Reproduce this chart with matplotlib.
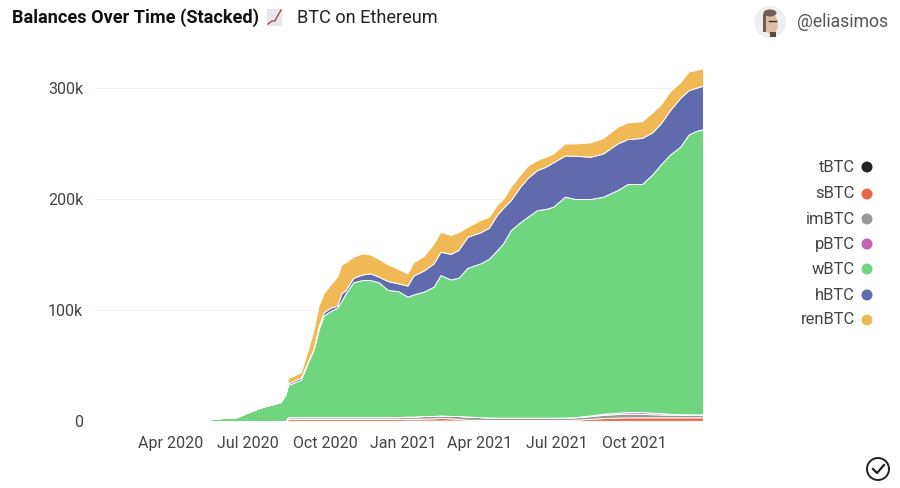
import matplotlib
matplotlib.use("Agg")
import matplotlib.pyplot as plt
import numpy as np
import pandas as pd
from matplotlib.patches import Circle, Rectangle, Ellipse

plt.rcParams['font.family'] = ['Roboto', 'DejaVu Sans']

dates = ["2020-05-12","2020-05-30","2020-06-19","2020-06-29","2020-07-16","2020-08-09","2020-08-15","2020-08-18",
         "2020-09-02","2020-09-10","2020-09-17","2020-09-23","2020-09-29","2020-10-07","2020-10-15","2020-10-20",
         "2020-10-25","2020-11-03","2020-11-14","2020-11-23","2020-12-03","2020-12-14","2020-12-26","2021-01-06",
         "2021-01-13","2021-01-25","2021-02-06","2021-02-14","2021-02-26","2021-03-07","2021-03-18","2021-04-02",
         "2021-04-12","2021-04-22","2021-04-29","2021-05-08","2021-05-19","2021-05-28","2021-06-08","2021-06-18",
         "2021-06-27","2021-07-11","2021-07-23","2021-08-10","2021-08-25","2021-09-11","2021-09-23","2021-10-10",
         "2021-10-22","2021-11-01","2021-11-12","2021-11-24","2021-12-04","2021-12-12","2021-12-21"]

tBTC = [0,0,0,0,0,0,0, .2,.2,.2,.2,.2,.2,.2,.2,.2,.2,.2,.2,.2,.2,.2,.2, .4,.4,.4,.4,.4,.4,.4,
        .1,.1,.1,.1,.1,.1,.1,.1,.1,.1,.1,.1,.1,.1,.1,.1,.1,.1,.1,.1,.1,.1,.1,.1,.1]
sBTC = [0,0,0,0,0,0,0, 1.8,1.8,1.8,1.8,1.8,1.8,1.8,1.8,1.8,1.8,1.8,1.8,1.8,1.8,1.8,1.8, 1.6,1.6,1.8,2,2.4,2,1.4,
        1,.9,.8,.7,.7,.7,.7,.7,.7,.7,.7,.8,1.1,1.9,2.5,3,3.2,3.2,3.2,3.2,3.2,3.2,3.2,3.2,3.2]
imBTC = [0,0,0,0,0,0,0, 1.5,1.5,1.5,1.5,1.5,1.5,1.5,1.5,1.5,1.5,1.5,1.5,1.5,1.5,1.5,1.5, 2,2,2.3,2.1,2.2,2.1,2.7,
         2.9,2.5,2.3,2.2,2.2,2.2,2.2,2.2,2.2,2.2,2.2,2.2,2.1,2.4,2.9,3.2,3.3,3.1,2.8,2.5,2.4,2.3,2.2,2.2,2.2]
pBTC = [0,0,0,0,0,0,0,0,0,0,0,0,0,0,0,0,0,0,0,0,0,0,0,0,0,0,0,0,0,0,
        0,0,0,0,0,0,0,0,0,0,0,0,.2,.6,1,1.2,1.4,1.6,1.4,1.2,.8,.6,.5,.5,.5]
wBTC = [1,2.5,3.5,7,12,17,24,29,33.5,48.5,60.5,78.5,91.5,95.5,98.5,104.5,111.5,121.5,123.5,123.5,121.5,114.5,113.5,108,
        110,112,116.5,126.5,123,124.5,134,138.5,142.8,151,157,169,176,181,187,188,190,199,196.5,195,195.5,200.5,205.5,205.5,214.5,224,233.5,240.8,252,255,257]
hBTC = [0,0,0,0,0,0,0,1.5,2,1,1,3,3,3,2,7,3,4,5,6,5,8,7,10,17,19,21,21,23,25,28,28,28,32,32,27,32,35,36,38,40,37,39,38,39,42,40.5,41.5,38,37,40,44,40,39,39]
renBTC = [0,0,0,0,0,.5,.5,4.5,5,10,17,19,17,21,26,26,25,19,19,17,16,15,13,11,12,13,18,18,17,16,9,11,10,9,8,12,11,11,9,9,8,11,11,13,14,15,15,15,18,17,17,14,17,16,16]

series_names = ["tBTC","sBTC","imBTC","pBTC","wBTC","hBTC","renBTC"]
series_colors = ["#222222","#e8694a","#999999","#c065b0","#6fd57f","#5f6bad","#f1b955"]
series = [tBTC,sBTC,imBTC,pBTC,wBTC,hBTC,renBTC]

W, H = 900, 488
fig = plt.figure(figsize=(W/100, H/100), dpi=100, facecolor="white")
ax = fig.add_axes([95/W, 1-421/H, (703-95)/W, (421-60)/H])
x = pd.to_datetime(dates)
ax.stackplot(x, *[np.array(s)*1000 for s in series], colors=series_colors, edgecolor="white", linewidth=0.7)
ax.set_xlim(pd.Timestamp("2020-01-03"), pd.Timestamp("2021-12-21"))
ax.set_ylim(0, 325200)
ax.set_yticks([0,100000,200000,300000])
ax.set_yticklabels(["0","100k","200k","300k"])
ax.set_xticks(pd.to_datetime(["2020-04-01","2020-07-01","2020-10-01","2021-01-01","2021-04-01","2021-07-01","2021-10-01"]))
ax.set_xticklabels(["Apr 2020","Jul 2020","Oct 2020","Jan 2021","Apr 2021","Jul 2021","Oct 2021"])
ax.tick_params(axis="both", length=0, labelsize=11.5, labelcolor="#444444")
ax.tick_params(axis="y", pad=8.5)
ax.tick_params(axis="x", pad=10.5)
ax.grid(axis="y", color="#f0f0f0", lw=0.8)
ax.set_axisbelow(True)
for s in ax.spines.values():
    s.set_visible(False)

# overlay in pixel coordinates for header, legend and icons
ov = fig.add_axes([0,0,1,1], facecolor="none")
ov.set_xlim(0,W); ov.set_ylim(H,0); ov.axis("off")
ov.text(12, 18, "Balances Over Time (Stacked)", fontsize=13.1, fontweight="bold", color="#111111", va="center", ha="left")
ov.text(297, 18, "BTC on Ethereum", fontsize=13.1, color="#222222", va="center", ha="left")
ov.text(797, 22, "@eliasimos", fontsize=12.7, color="#555555", va="center", ha="left")

# chart emoji
ov.add_patch(Rectangle((267,9),15,17,color="#e3e7ef",lw=0))
ov.plot([268,272,275,277,281],[24,21,21,17,10],color="#b0413e",lw=1)

# avatar
ov.add_patch(Circle((770,22),16,color="#efefef",lw=0))
ov.add_patch(Ellipse((771,24),14,20,color="#d9bfa8",lw=0))
ov.add_patch(Ellipse((770,13),13,7,color="#6e5e55",lw=0))
ov.add_patch(Rectangle((763,14),3,18,color="#6e5e55",lw=0))
ov.add_patch(Rectangle((770,32),6,5,color="#5a4a40",lw=0))
ov.plot([769,776],[21,21],color="#333333",lw=1)

# legend
legend_y = [167,194,219,244,269,295,320]
for n,c,y in zip(series_names, series_colors, legend_y):
    ov.text(855, y, n, fontsize=11.9, color="#444444", ha="right", va="center")
    ov.add_patch(Circle((867,y),5.5,color=c,lw=0))

# check icon
ov.add_patch(Circle((878,469),11,fill=False,ec="#222222",lw=1.4))
ov.plot([873,877,884],[469,473,465],color="#222222",lw=1.6)

fig.savefig("out.png", dpi=100)
